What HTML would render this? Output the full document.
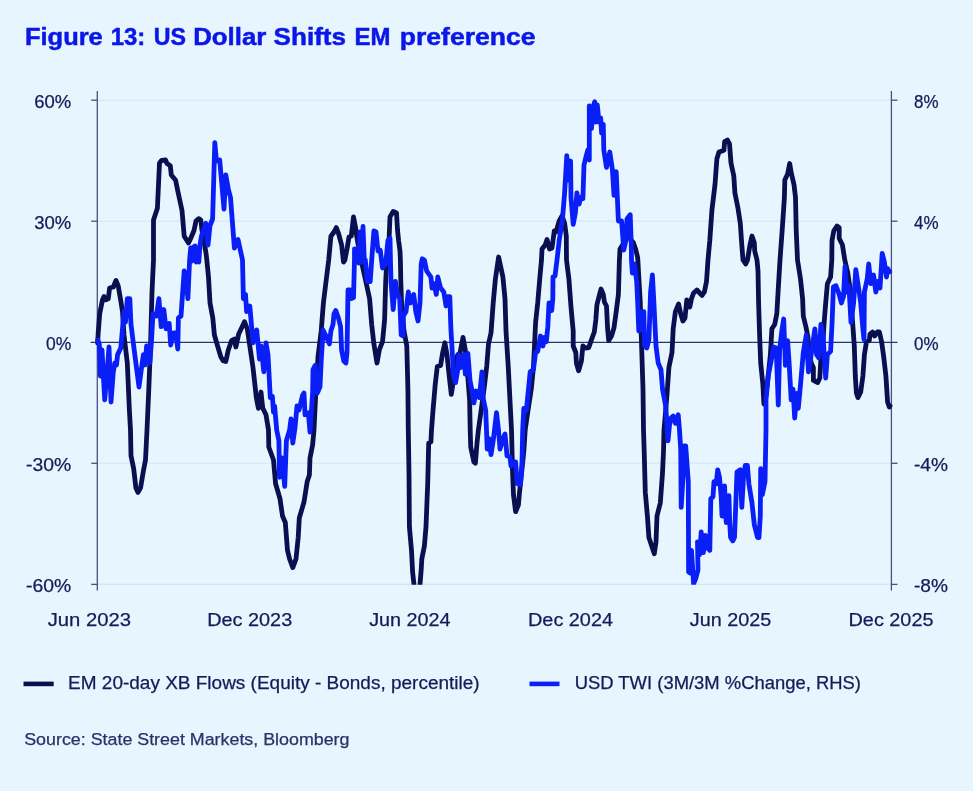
<!DOCTYPE html>
<html><head><meta charset="utf-8"><title>Figure 13</title>
<style>
html,body{margin:0;padding:0;background:#e7f5fe;}
body{width:973px;height:791px;overflow:hidden;font-family:"Liberation Sans",sans-serif;}
svg{display:block}
text{font-family:"Liberation Sans",sans-serif;}
</style></head><body>
<svg width="973" height="791" viewBox="0 0 973 791">
<rect width="973" height="791" fill="#e7f5fe"/>
<text y="45.2" font-size="24" font-weight="bold" fill="#0b17e8" stroke="#0b17e8" stroke-width="0.5"><tspan x="25" textLength="77.7" lengthAdjust="spacingAndGlyphs">Figure</tspan> <tspan x="110.7" textLength="34.6" lengthAdjust="spacingAndGlyphs">13:</tspan> <tspan x="153.8" textLength="32.2" lengthAdjust="spacingAndGlyphs">US</tspan> <tspan x="193.2" textLength="73.2" lengthAdjust="spacingAndGlyphs">Dollar</tspan> <tspan x="273.6" textLength="72.4" lengthAdjust="spacingAndGlyphs">Shifts</tspan> <tspan x="354.6" textLength="35.9" lengthAdjust="spacingAndGlyphs">EM</tspan> <tspan x="399.8" textLength="135.7" lengthAdjust="spacingAndGlyphs">preference</tspan></text>
<g stroke="#d2e4f8" stroke-width="1.1">
<line x1="97.3" y1="100.2" x2="891.4" y2="100.2"/>
<line x1="97.3" y1="221.2" x2="891.4" y2="221.2"/>
<line x1="97.3" y1="463.3" x2="891.4" y2="463.3"/>
<line x1="97.3" y1="584.4" x2="891.4" y2="584.4"/>
</g>
<g stroke="#4a4f80" stroke-width="1.3">
<line x1="97.3" y1="91" x2="97.3" y2="590.5"/>
<line x1="891.4" y1="91" x2="891.4" y2="590.5"/>
<line x1="90.6" y1="342.3" x2="897.5" y2="342.3" stroke="#2f3468"/>
<line x1="91.2" y1="100.2" x2="97.3" y2="100.2"/><line x1="891.4" y1="100.2" x2="897.5" y2="100.2"/>
<line x1="91.2" y1="221.2" x2="97.3" y2="221.2"/><line x1="891.4" y1="221.2" x2="897.5" y2="221.2"/>
<line x1="91.2" y1="463.3" x2="97.3" y2="463.3"/><line x1="891.4" y1="463.3" x2="897.5" y2="463.3"/>
<line x1="91.2" y1="584.4" x2="97.3" y2="584.4"/><line x1="891.4" y1="584.4" x2="897.5" y2="584.4"/>
</g>
<text x="71.3" y="108.2" font-size="18.6" fill="#161a58" stroke="#161a58" stroke-width="0.25" text-anchor="end" textLength="37" lengthAdjust="spacingAndGlyphs">60%</text>
<text x="71.3" y="229.2" font-size="18.6" fill="#161a58" stroke="#161a58" stroke-width="0.25" text-anchor="end" textLength="37" lengthAdjust="spacingAndGlyphs">30%</text>
<text x="71.3" y="350.3" font-size="18.6" fill="#161a58" stroke="#161a58" stroke-width="0.25" text-anchor="end" textLength="25.3" lengthAdjust="spacingAndGlyphs">0%</text>
<text x="71.3" y="471.3" font-size="18.6" fill="#161a58" stroke="#161a58" stroke-width="0.25" text-anchor="end" textLength="45.2" lengthAdjust="spacingAndGlyphs">-30%</text>
<text x="71.3" y="592.4" font-size="18.6" fill="#161a58" stroke="#161a58" stroke-width="0.25" text-anchor="end" textLength="45.2" lengthAdjust="spacingAndGlyphs">-60%</text>
<text x="914" y="108.2" font-size="18.6" fill="#161a58" stroke="#161a58" stroke-width="0.25" text-anchor="start" textLength="24.5" lengthAdjust="spacingAndGlyphs">8%</text>
<text x="914" y="229.2" font-size="18.6" fill="#161a58" stroke="#161a58" stroke-width="0.25" text-anchor="start" textLength="24.5" lengthAdjust="spacingAndGlyphs">4%</text>
<text x="914" y="350.3" font-size="18.6" fill="#161a58" stroke="#161a58" stroke-width="0.25" text-anchor="start" textLength="24.5" lengthAdjust="spacingAndGlyphs">0%</text>
<text x="914" y="471.3" font-size="18.6" fill="#161a58" stroke="#161a58" stroke-width="0.25" text-anchor="start" textLength="34" lengthAdjust="spacingAndGlyphs">-4%</text>
<text x="914" y="592.4" font-size="18.6" fill="#161a58" stroke="#161a58" stroke-width="0.25" text-anchor="start" textLength="34" lengthAdjust="spacingAndGlyphs">-8%</text>
<text x="89.4" y="625.7" font-size="19.1" fill="#161a58" stroke="#161a58" stroke-width="0.25" text-anchor="middle" textLength="83.4" lengthAdjust="spacingAndGlyphs">Jun 2023</text>
<text x="249.7" y="625.7" font-size="19.1" fill="#161a58" stroke="#161a58" stroke-width="0.25" text-anchor="middle" textLength="85" lengthAdjust="spacingAndGlyphs">Dec 2023</text>
<text x="409.9" y="625.7" font-size="19.1" fill="#161a58" stroke="#161a58" stroke-width="0.25" text-anchor="middle" textLength="81.5" lengthAdjust="spacingAndGlyphs">Jun 2024</text>
<text x="570.5" y="625.7" font-size="19.1" fill="#161a58" stroke="#161a58" stroke-width="0.25" text-anchor="middle" textLength="85" lengthAdjust="spacingAndGlyphs">Dec 2024</text>
<text x="730.5" y="625.7" font-size="19.1" fill="#161a58" stroke="#161a58" stroke-width="0.25" text-anchor="middle" textLength="81.5" lengthAdjust="spacingAndGlyphs">Jun 2025</text>
<text x="891" y="625.7" font-size="19.1" fill="#161a58" stroke="#161a58" stroke-width="0.25" text-anchor="middle" textLength="85" lengthAdjust="spacingAndGlyphs">Dec 2025</text>
<clipPath id="cp"><rect x="90" y="88" width="810" height="496.8"/></clipPath>
<g clip-path="url(#cp)" fill="none" stroke-linejoin="round" stroke-linecap="round">
<polyline stroke="#0a0f50" stroke-width="4.8" points="97.6,343 98.2,333 99.7,313.8 102.5,299.8 104,296.5 105.7,299.8 108.3,298.7 109.6,288 113.3,287 116,280.4 118.2,285.8 120.8,300.9 122.5,311.6 124,335 127.3,363 129.4,410.5 130.5,430 131,455.8 133.7,468.7 135.9,488 138,492.4 140.6,487.6 143.4,470.9 145.5,460 147,430 148.8,389 150.5,346 152,292 153.5,260 153.5,220 157.4,208.3 159.5,163 161.7,160.3 165.5,160 167,163.5 170.3,165.7 171.3,175 175.6,180.3 177.8,191 182,210.4 184.2,236.2 188.5,243 190.7,238.4 194,230.5 196,221 198.7,218.6 200.8,220 201.9,229.8 206,253 206.8,260 208.5,277 210,303 212.8,318 214.4,335 217.6,346 220.8,356.8 223,360.6 225.8,361.5 228.3,350 231.6,340.6 234.4,339 235.9,347 238.7,334 241.2,328.8 244.5,321.7 247.3,328.8 249.8,346 253,367.5 256.3,397.6 258.4,408.4 261,392 262.7,408 266,414.8 268.5,430 268.8,447 273.5,460 275.6,483.8 280,498.8 282.5,516 285.3,522.5 287.5,550.4 289.6,559 292.8,567.6 296,559 298.2,537.5 299.3,518 304,502 307.2,481.6 309.4,475 310,458 312.6,445 314,430 315.8,393 318,356.8 321.2,331 323.4,303 325.5,285.8 328.7,260 330.9,236.2 334,232 336.3,227.6 338.4,233 341.6,244.8 343.5,262 344.9,260 347,249 349,237 351.3,236 353.5,216.9 355.6,227.6 356.7,236 360,255 365.3,279 369.6,298.7 371.7,324.5 373.9,343.9 377,363 379.3,350 382.5,341.7 384.6,320 385.7,281.5 386.8,260 389,240.5 390,216.9 393.2,211.5 396.5,213 397.5,229.8 398.6,240.5 400,251 400.4,260 400.8,281.5 401.8,309.5 404,331 406.8,346 407.9,389 408.3,430 409,473 409.4,526.8 411.5,550.4 412.6,572 414,584.4 415,600 419,600 420,584.4 421.2,569.8 421.8,559 424.4,546 426,526.8 427.7,483.8 428.7,443 430.9,441.8 431.5,430 433,410.5 435.2,384.7 437.3,366.5 440.6,365.4 442.7,352.5 444.9,342.8 447,354.6 449.2,376 451.3,394.4 453.5,380.4 455.6,361 457.8,354.6 459.9,353.5 463,337.4 465.3,350 467.4,371.8 469.6,399.8 470.2,430 470.7,447 473.9,462 475.4,463.3 477,443 478.4,430 481.4,408.4 484.6,384.7 486.8,365.4 488.5,343.9 491,333 493.2,303 495.4,279 498.6,257 502.9,277 505,298.7 506,331 508.3,367.5 510.5,410.5 511.5,430 512.5,470 513.5,495 515.6,511.7 518.4,505 519.5,492.4 521.6,473 523.8,451.5 525.2,430 528,410.5 531.3,389 533.4,367.5 534.5,346 535.6,322.4 537.7,303 539.9,277 541.5,260 542,249 545.3,244.8 547,239.5 549.6,249 552,248 554.3,230.9 556,232 559.2,221 562,215.8 564.6,223 566.3,236 566.5,260 568.9,279 571,307 573.2,331 573.2,346 575.8,352.5 576.4,363 578.6,370.8 581.4,361 582.9,346 586,348 588.7,347.7 591.5,339.6 594.3,332 595.8,320 596.9,305 599,296.6 601,289 603.3,294.4 604.4,302 606.5,306 607.6,328.8 608.7,340.6 611.5,336 614,327.7 616.2,311.6 618.4,294.4 619.4,260 620,249 622.7,244.8 625,238 628,236 631,240 633.4,242.7 635.6,249 637.7,257.7 638.8,277 640.3,303 641.6,346 643,389 643.5,430 644.2,451.5 645.3,492.4 647.4,516 648.9,537.5 651.7,546 654.3,553.7 656,541.8 657,516 660.3,503 662.5,473 663.5,451.5 664,430 665.7,410.5 667.4,389 668.9,367.5 672,352.5 673.2,328.8 675.4,311.6 678.6,304 680.7,313.8 682.9,321 685,318 686.8,299.8 689.8,307 691.5,298.7 693.6,293 696.9,290 699.7,293 702,295.5 704.4,292 706.5,281.5 708,260 709.8,240.5 711.9,210.4 715,184.6 716.9,158.8 719,152 722,151 724,150 724.6,141.6 727.4,140 729.5,143.8 731,163 733.8,176 734.9,193 738,208.3 740.3,223.3 741.8,244.8 743,260 745.7,264 747.5,260 750,244.8 752,236 754.3,242.7 754.7,251 757,260 758,270.8 758.6,303 759.6,335 760.7,363 762.9,384.7 763.9,404 766,395 768.2,376 770.4,354.6 771.9,328.8 774.7,324.5 776.8,313.8 778.3,288 780,260 782.2,229.8 784.4,197.5 784.8,180 787.6,173.9 789.7,163.5 791.2,172.8 794,184.6 795.5,197.5 796.2,229.8 797.5,260 800.5,279 802.6,298.7 803.3,316 805.9,326.7 808,337.4 809,350 811.2,363 813.4,367.5 813.4,380.4 817.7,382.6 819.8,378 820.9,359 823,341.7 824,324.5 825.7,303 827.4,283.7 830.6,277 831.8,260 832,240.5 833.8,230.9 837,226 839.2,227.6 839.2,238.4 842.4,244.8 844.8,260 847.8,273 850,288 852,313.8 854.3,346 855.3,376 856.4,393 857.9,397.6 860.7,392 862.9,376 864.4,354.6 866.5,341.7 869.3,340.6 870,334 872.5,332 874.7,336 877.3,332 879.4,332 881.6,341.7 883.7,356.8 885.9,376 887.6,402 889.3,407 890,406"/>
<polyline stroke="#0a1ef8" stroke-width="4.8" points="97.8,340 99.3,343.9 100.4,376 102,350 104.7,399.8 106.8,376 109,347 111,402 113.3,371.8 114.8,363 116.5,365 117.6,354.6 120.8,348 124,311.6 125.5,322 127.3,298.7 129.8,298.7 131,324.5 133.7,346 137,371.8 139,387 141,371.8 143.4,354.6 145,365 146.6,346 149.8,363 151.3,343.9 153,313.8 156.3,316 158.9,298.7 161.2,326.7 163.8,309.5 166,328.8 169.2,323.4 170.7,345 173.5,333 175.6,333 177.8,349 178.4,318 181,316 184.2,270.8 186.4,283.7 187.9,298.7 189.6,260 190.7,248 192,261 193.3,247 195,246 196.3,262 197.5,250 198.8,262 200,245 201.5,236 205.8,223.3 208,245 210,225.5 212.6,219 214.8,142.7 216.5,161 219.7,160 224,209 225.8,175 228.3,189 230.5,197.5 234.4,248 238,239.5 242.5,260 243.4,298.7 245.5,294.4 246.6,311.6 249.8,306 253,342.8 256.7,330 259.5,359 261,346 263.8,371.8 266,342.8 268,354.6 270.3,397.6 272.4,396.6 273.5,412 274.6,406 276.7,430 278.9,440.8 279.5,477.3 282,458 284.7,486.3 286.4,440.8 289.6,430 291,419 292.8,443 295,428 297,406 299,410 302.5,395.5 304,393 305,414.8 308.3,412.7 310,432 312.6,393 313,369.7 315.2,365.4 317.3,393 320,386.9 321.2,361 322.5,340 323,330 325.5,335 329.4,343.9 330.9,331 333,324.5 334,313.8 335.8,310.5 338.4,318 340.6,326.7 341.6,350.3 343.8,361 345.9,363 347,352.5 348,290 350.2,290 351.3,298.7 353.5,297.6 354.5,260 354.5,249 356,262 357.8,248 359,263 360,232 361.5,262 363,226.5 364.2,258 365.3,260 367.4,281.5 370.2,281.5 371.7,260 373.9,230.9 376,232 378,251 380.3,250.2 382.5,268 385.7,264 387.9,240.5 390,238.4 390.5,262 391,281.5 393.2,309.5 395.4,281.5 397.5,294.4 399.7,298.7 401.2,335 403,336 403.4,316 406,311.6 408.3,292 410.5,303 413.7,294.4 415.8,311.6 418,321 420,303 421.2,264 422.3,258.8 424.4,260 426.6,270.8 430.9,277 432,288 434,283.7 436.3,294.4 437.8,277 440.6,288 443.8,292 446,306 447.7,296.6 449.8,296.6 450.9,328.8 452.4,354.6 453.5,376 455.6,382.6 457.8,369.7 458.8,354.6 461,367.5 464.2,354.6 465.3,374 467.9,353.5 470,380.4 471.7,389 473.9,403 476,391 479.3,397.6 482,371.8 483,397.6 485.7,410.5 486.5,430 487.2,449 489,438.6 491,454.7 493.2,440.8 494.5,430 496.5,412.7 498.5,430 500,449 503,438.6 505,434 507,455.8 510,457 511,466 513,462 515.6,462 517.3,483.8 520.5,484.8 522,462 522.7,430 523.8,408.4 526.3,410.5 528.5,389 530.2,371.8 533.4,369.7 535.6,352.5 537.7,351.4 540.5,336 543,346 544.2,337.4 546.3,341.7 547.8,326.7 549,303 551.7,310.5 552.8,298.7 553,277 555,276 557,260 559.2,240.5 562.5,219 564.6,193 566.8,155.6 567.8,180 570.6,161 571,197.5 573.2,224.4 575.4,212.6 576.9,193 579.2,204 580.7,197.5 582.9,198.6 584,165 586,156.7 587.8,150 589.3,160 589.3,106 591.5,128.7 593,107 594.7,101.8 595.8,122 597.3,105 599,122 600.7,118 601.6,133 603.3,124.4 603.8,150 606.5,167.4 609.8,152 612.4,169.6 614,195.4 616.2,171.7 618.4,221 621.6,221 623.8,250 625.9,240.5 627,219 630.2,214.7 631.3,244.8 631.5,260 632.4,273 634.5,264 636.7,281.5 637.7,303 638.8,331 641,328.8 642,311.6 643.8,311.6 644.6,346 646.8,348 648.9,339.6 650.6,292 652.4,275 653.9,303 656,346 658.2,363 661,369.7 662.5,389 665.7,406 667,425 668,440.8 669.5,425 671,418 673.2,416 675.4,423.4 678.2,414.8 679.5,430 680.7,449 681.2,507.4 682.9,479.5 684,446 685.7,446 688.3,481.6 688.6,572 689.8,573 691.5,550.4 693.6,583.8 695.8,578.4 698,569.8 697.5,541.8 699.7,554.7 701.2,532 703.3,552.6 705.5,535.4 706.5,547 709.8,550.4 710.8,498.8 713,496.7 714,481.6 716.2,483.8 717.7,469.8 719.5,477.3 721.2,496.7 722,516 723,516 723.6,500 724.2,515 724.6,486 725.5,512 726.3,522.5 727.5,502 728.9,495.6 729.7,522 730.6,537.5 732.8,540.8 734.5,537.5 736,498.8 737,472 740.3,469.8 741.8,507.4 743.5,477.3 745.2,465.5 747.4,465.5 748.9,483.8 752,503 754.3,524.6 757.5,537.5 759,537.5 760.3,516 760.7,468.7 762.4,494.5 765,481.6 766,430 766,399.8 768.2,376 771.5,359 773.6,347 776.2,348 778.3,405 779.6,350 781.8,331 783.7,319 785.4,365.4 787.6,340.6 789,361 791.2,399.8 793,389 794.7,418 796.8,393.3 798.3,408.4 800.5,384.7 803.3,352.5 806.3,335 808.5,371.8 811.2,354.6 814.9,328.8 816.6,354.6 818.8,357.8 820.9,324.5 823,335 825.7,378 827.4,354.6 830.6,351.4 832,324.5 833.4,287 836,285.8 839.2,294.4 841.4,303 843.5,296.6 845,266.5 846.7,292 848.9,285.8 851,322.4 853.6,303 855.8,269.7 858.6,288 860.7,303 862.9,328.8 864,339.6 864.4,292 867.2,279 868.7,264 870.8,283.7 873.6,275 875.8,292 877.9,281.5 880,288 882.2,253.4 884.4,262 886.5,277 887.6,268.6 889.7,271.8"/>
</g>
<line x1="23.5" y1="683.9" x2="53.7" y2="683.9" stroke="#0a0f50" stroke-width="4.6"/>
<text x="68.1" y="688.9" font-size="17.6" fill="#161a58" stroke="#161a58" stroke-width="0.25" text-anchor="start" textLength="411.5" lengthAdjust="spacingAndGlyphs">EM 20-day XB Flows (Equity - Bonds, percentile)</text>
<line x1="529.5" y1="683.9" x2="559.5" y2="683.9" stroke="#0a1ef8" stroke-width="4.6"/>
<text x="574.7" y="688.9" font-size="17.6" fill="#161a58" stroke="#161a58" stroke-width="0.25" text-anchor="start" textLength="286.3" lengthAdjust="spacingAndGlyphs">USD TWI (3M/3M %Change, RHS)</text>
<text x="24.2" y="745.3" font-size="17.4" fill="#2b3068" stroke="#2b3068" stroke-width="0.25" text-anchor="start" textLength="325.3" lengthAdjust="spacingAndGlyphs">Source: State Street Markets, Bloomberg</text>
</svg>
</body></html>
